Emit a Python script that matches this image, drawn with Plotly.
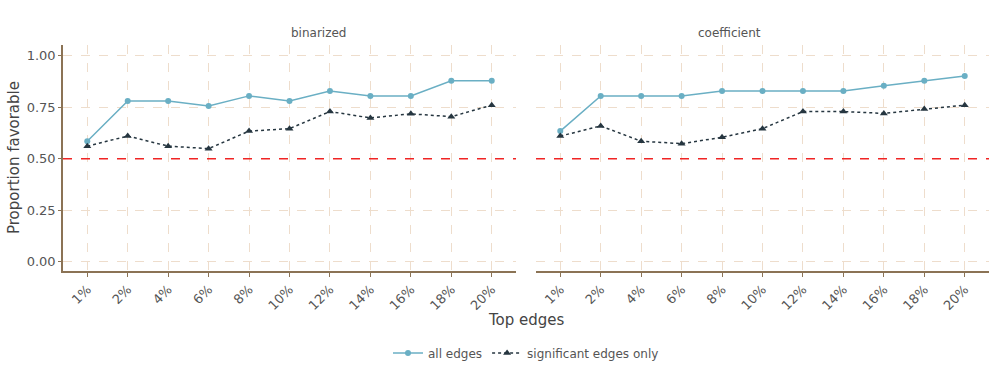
import plotly.graph_objects as go

cats = ["1%", "2%", "4%", "6%", "8%", "10%", "12%", "14%", "16%", "18%", "20%"]
panels = ["binarized", "coefficient"]

bin_all = [0.585, 0.780, 0.780, 0.756, 0.805, 0.780, 0.829, 0.805, 0.805, 0.878, 0.878]
bin_sig = [0.561, 0.610, 0.561, 0.549, 0.634, 0.646, 0.729, 0.698, 0.718, 0.704, 0.760]
coef_all = [0.634, 0.805, 0.805, 0.805, 0.829, 0.829, 0.829, 0.829, 0.854, 0.878, 0.902]
coef_sig = [0.610, 0.659, 0.585, 0.573, 0.604, 0.646, 0.729, 0.729, 0.720, 0.741, 0.760]

series = {"binarized": (bin_all, bin_sig), "coefficient": (coef_all, coef_sig)}

BLUE = "#6aafc4"
DARK = "#263640"
AXIS = "#8b7355"
GRID = "#eeddcc"
FONT = "DejaVu Sans"
TXT = "#555555"

fig = go.Figure()
for i, p in enumerate(panels):
    xa = "x" if i == 0 else "x2"
    ya = "y" if i == 0 else "y2"
    a, s = series[p]
    fig.add_trace(go.Scatter(
        x=cats, y=a, xaxis=xa, yaxis=ya, mode="lines+markers",
        name="all edges", legendgroup="all", showlegend=(i == 0),
        line=dict(color=BLUE, width=1.5), marker=dict(color=BLUE, size=6),
    ))
    fig.add_trace(go.Scatter(
        x=cats, y=s, xaxis=xa, yaxis=ya, mode="lines+markers",
        name="significant edges only", legendgroup="sig", showlegend=(i == 0),
        line=dict(color=DARK, width=1.5, dash="dot"),
        marker=dict(color=DARK, size=7, symbol="triangle-up"),
    ))
    fig.add_shape(type="line", xref=f"{xa} domain", yref=ya, x0=0, x1=1, y0=0.5, y1=0.5,
                  line=dict(color="#f02424", width=1.5, dash="dash"))

xcommon = dict(
    type="category", range=[-0.6, 10.6], showgrid=True, gridcolor=GRID, griddash="dash",
    gridwidth=1, showline=True, linecolor=AXIS, linewidth=1.5, ticks="outside",
    tickcolor=AXIS, ticklen=4, tickangle=-45, zeroline=False, automargin=False,
    tickfont=dict(family=FONT, size=13, color=TXT),
)
ycommon = dict(
    range=[-0.045, 1.052], tickvals=[0, 0.25, 0.5, 0.75, 1.0], showgrid=True,
    gridcolor=GRID, griddash="dash", gridwidth=1, zeroline=False, automargin=False,
    tickfont=dict(family=FONT, size=13, color=TXT),
)

ph = 385 - 45 - 114
pw = 997 - 63 - 8

fig.update_layout(
    width=997, height=385,
    margin=dict(l=63, r=8, t=45, b=114, autoexpand=False),
    plot_bgcolor="white", paper_bgcolor="white",
    font=dict(family=FONT, color=TXT),
    xaxis=dict(domain=[0, 0.4892], **xcommon),
    xaxis2=dict(domain=[0.5108, 1], anchor="y2", **xcommon),
    yaxis=dict(showline=True, linecolor=AXIS, linewidth=1.5, tickformat=".2f",
               ticks="outside", tickcolor=AXIS, ticklen=3, **ycommon),
    yaxis2=dict(anchor="x2", showticklabels=False, showline=False, ticks="", **ycommon),
    legend=dict(orientation="h", x=0.5, xanchor="center", y=32 / 385, yref="container",
                yanchor="middle", itemwidth=30, font=dict(family=FONT, size=12, color=TXT)),
    annotations=[
        dict(text="binarized", x=0.2446, xref="paper", y=(385 - 114 - 33) / ph, yref="paper",
             yanchor="middle", showarrow=False, font=dict(family=FONT, size=12, color=TXT)),
        dict(text="coefficient", x=0.7554, xref="paper", y=(385 - 114 - 33) / ph, yref="paper",
             yanchor="middle", showarrow=False, font=dict(family=FONT, size=12, color=TXT)),
        dict(text="Top edges", x=0.5, xref="paper", y=(385 - 114 - 320) / ph, yref="paper",
             yanchor="middle", showarrow=False, font=dict(family=FONT, size=15, color="#444444")),
        dict(text="Proportion favorable", x=(14 - 63) / pw, y=0.5, xref="paper", yref="paper",
             xanchor="center", textangle=-90, showarrow=False,
             font=dict(family=FONT, size=15, color="#444444")),
    ],
)

fig.write_html("out.html", config={"displayModeBar": False},
               post_script="document.body.style.margin='0px';")
